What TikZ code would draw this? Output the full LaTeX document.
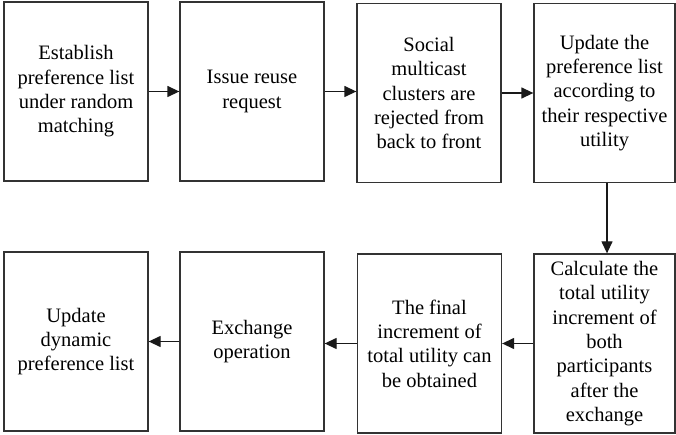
\documentclass[tikz,border=0pt]{standalone}
\usepackage{fontspec}
\setmainfont{Liberation Serif}
\usetikzlibrary{arrows.meta}
\tikzset{
  boxnode/.style={draw=black!80,line width=1.3pt,rectangle,inner sep=0pt,
    minimum width=144pt,minimum height=179pt,align=center,
    font=\rmfamily\fontsize{20.5}{24.4}\selectfont},
  flow/.style={draw=black!90,line width=1.3pt,-{Triangle[length=12pt,width=11pt]}}
}
\begin{document}
\begin{tikzpicture}[x=1pt,y=-1pt]
\useasboundingbox (0,0) rectangle (676,435);
\node[boxnode] (t1) at (76,91.5) {Establish\\preference list\\under random\\matching};
\node[boxnode] (t2) at (252,91.5) {Issue reuse\\request};
\node[boxnode] (t3) at (429,93) {Social\\multicast\\clusters are\\rejected from\\back to front};
\node[boxnode,minimum width=141pt] (t4) at (604.5,93) {Update the\\preference list\\according to\\their respective\\utility};
\node[boxnode] (b1) at (76,341.5) {Update\\dynamic\\preference list};
\node[boxnode] (b2) at (252,341.5) {Exchange\\operation};
\node[boxnode] (b3) at (429.5,343.5) {The final\\increment of\\total utility can\\be obtained};
\node[boxnode,minimum width=141pt] (b4) at (604.5,343.5) {Calculate the\\total utility\\increment of\\both\\participants\\after the\\exchange};
\draw[flow] (t1.east) -- (t1.east -| t2.west);
\draw[flow] (t2.east) -- (t2.east -| t3.west);
\draw[flow] (t3.east) -- (t3.east -| t4.west);
\draw[flow] ([xshift=2.5pt]t4.south) -- ([xshift=2.5pt]b4.north);
\draw[flow] (b4.west) -- (b4.west -| b3.east);
\draw[flow] (b3.west) -- (b3.west -| b2.east);
\draw[flow] (b2.west) -- (b2.west -| b1.east);
\end{tikzpicture}
\end{document}
